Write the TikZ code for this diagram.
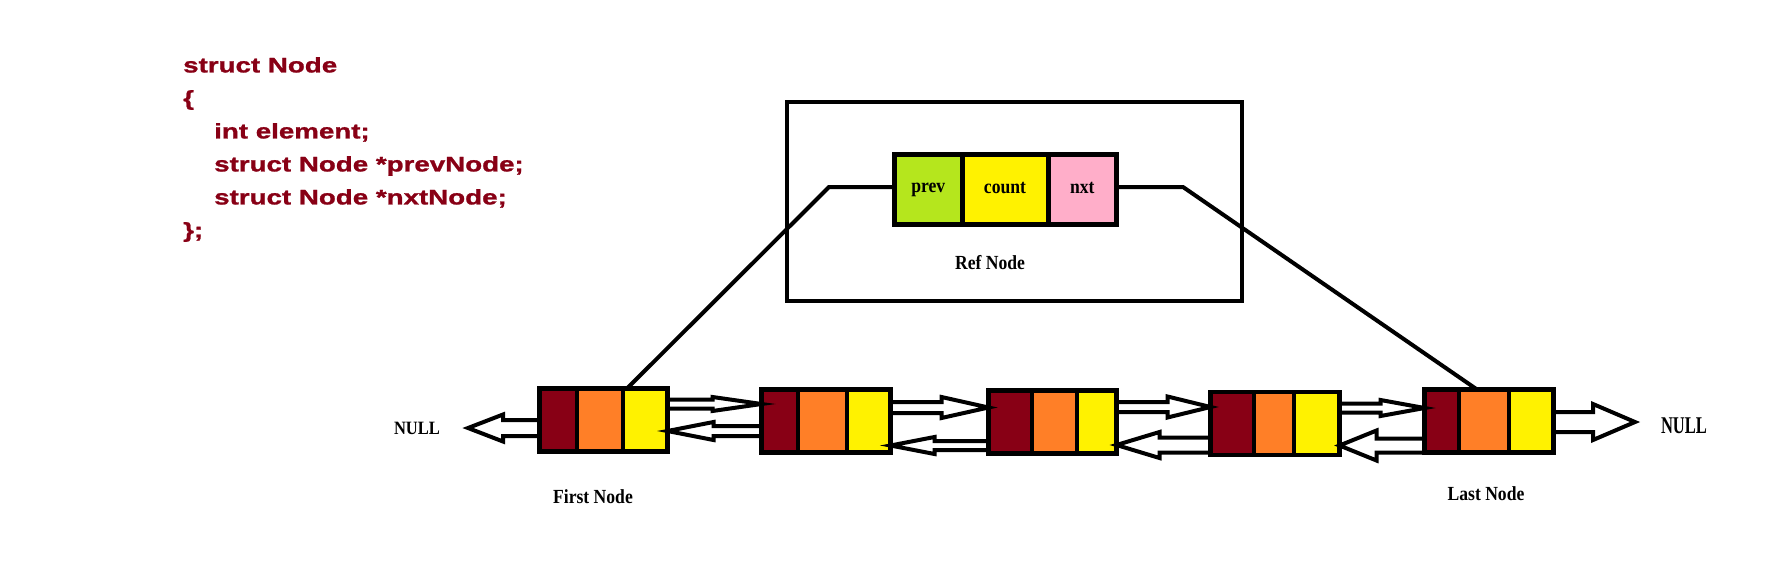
\documentclass[tikz,border=0pt]{standalone}
\usepackage{fontspec}
\setmainfont{Liberation Serif}
\newfontfamily\codefont{Liberation Sans}[FakeStretch=1.32, FakeBold=1.2]
\newfontfamily\labelfont{Liberation Serif}[FakeStretch=0.88]
\newfontfamily\narrowserif{Liberation Serif}[FakeStretch=0.69]
\usepackage{tikz}
\usetikzlibrary{calc,positioning}

\definecolor{pdarkred}{RGB}{136,0,21}
\definecolor{porange}{RGB}{255,127,39}
\definecolor{pyellow}{RGB}{255,242,0}
\definecolor{plime}{RGB}{181,230,29}
\definecolor{ppink}{RGB}{255,174,201}

\begin{document}
\begin{tikzpicture}[
  x=1pt, y=-1pt,
  cell/.style={draw, line width=4.5pt, outer sep=0pt, inner sep=0pt,
               minimum height=63pt},
  refcell/.style={draw, line width=5pt, outer sep=0pt, inner sep=0pt,
                  minimum height=70pt, text depth=4pt,
                  font=\labelfont\bfseries\fontsize{20pt}{24pt}\selectfont},
  lbl/.style={font=\labelfont\bfseries\fontsize{20pt}{24pt}\selectfont, inner sep=0pt},
  code/.style={font=\codefont\bfseries\fontsize{21pt}{33pt}\selectfont,
               text=pdarkred, align=left, inner sep=0pt},
  link/.style={line width=4pt},
  hollow/.style args={#1/#2/#3}{line width=4pt,
    to path={let \p1=(\tikztostart), \p2=(\tikztotarget),
                 \p3=($(\x2,\y1)!#3!(\x1,\y1)$) in
      (\x1,\y1+#1) -- (\x3,\y1+#1) -- (\x3,\y1+#2) -- (\x2,\y1)
      -- (\x3,\y1-#2) -- (\x3,\y1-#1) -- (\x1,\y1-#1)}}
]
  \useasboundingbox (0,0) rectangle (1776,571);

  % --- struct definition ---------------------------------------------
  \node[code, anchor=north west] (structdef) at (183,57)
    {struct Node\\
     \{\\
     \hspace*{31pt}int element;\\
     \hspace*{31pt}struct Node *prevNode;\\
     \hspace*{31pt}struct Node *nxtNode;\\
     \};};

  % --- reference node ------------------------------------------------
  \node[draw, line width=4pt, inner sep=0pt,
        minimum width=455pt, minimum height=199pt] (refbox) at (1014.5,201.5) {};
  \node[refcell, fill=plime, minimum width=67.5pt] (prev) at (928.25,189.5) {prev};
  \node[refcell, fill=pyellow, minimum width=86pt, right=0pt of prev] (count) {count};
  \node[refcell, fill=ppink, minimum width=68.5pt, right=0pt of count] (nxt) {nxt};
  \node[lbl] (reflbl) at (990,263) {Ref Node};

  % --- list nodes ----------------------------------------------------
  \node[cell, fill=pdarkred, minimum width=37.5pt] (n1p) at (558.25,420) {};
  \node[cell, fill=porange, minimum width=46pt, right=0pt of n1p] (n1d) {};
  \node[cell, fill=pyellow, minimum width=44.5pt, right=0pt of n1d] (n1n) {};

  \node[cell, fill=pdarkred, minimum width=36.5pt] (n2p) at (779.75,421) {};
  \node[cell, fill=porange, minimum width=49pt, right=0pt of n2p] (n2d) {};
  \node[cell, fill=pyellow, minimum width=43.5pt, right=0pt of n2d] (n2n) {};

  \node[cell, fill=pdarkred, minimum width=43.5pt] (n3p) at (1010.25,422) {};
  \node[cell, fill=porange, minimum width=45pt, right=0pt of n3p] (n3d) {};
  \node[cell, fill=pyellow, minimum width=39.5pt, right=0pt of n3d] (n3n) {};

  \node[cell, fill=pdarkred, minimum width=43.5pt] (n4p) at (1232.25,423.5) {};
  \node[cell, fill=porange, minimum width=40pt, right=0pt of n4p] (n4d) {};
  \node[cell, fill=pyellow, minimum width=45.5pt, right=0pt of n4d] (n4n) {};

  \node[cell, fill=pdarkred, minimum width=34.5pt] (n5p) at (1441.75,421) {};
  \node[cell, fill=porange, minimum width=50pt, right=0pt of n5p] (n5d) {};
  \node[cell, fill=pyellow, minimum width=44.5pt, right=0pt of n5d] (n5n) {};

  \node[lbl] (firstlbl) at (593,497) {First Node};
  \node[lbl] (lastlbl) at (1486,494) {Last Node};

  % --- NULL ends -----------------------------------------------------
  \node[font=\labelfont\bfseries\fontsize{18.8pt}{22pt}\selectfont, inner sep=0pt]
    (nullL) at (417,428) {NULL};
  \node[font=\narrowserif\bfseries\fontsize{24pt}{28pt}\selectfont, inner sep=0pt]
    (nullR) at (1684,426) {NULL};
  \coordinate (nulltipL) at (468,428);
  \coordinate (nulltipR) at (1635,422);

  % --- links from the reference node ---------------------------------
  \draw[link] ([yshift=2.5pt]prev.west) -- ++(-65.5,0) -- ([xshift=4pt]n1n.north west);
  \draw[link] ([yshift=2.5pt]nxt.east) -- ++(66.5,0) -- ([xshift=18pt]n5d.north west);

  % --- next / prev arrows --------------------------------------------
  \draw[hollow=4.5pt/7pt/49pt] ([yshift=16pt]n1n.east) to (n2p.west);
  \draw[hollow=5pt/9pt/46pt] ([yshift=-10pt]n2p.west) to (n1n.east);
  \draw[hollow=5.5pt/10.5pt/47pt] ([yshift=13.5pt]n2n.east) to (n3p.west);
  \draw[hollow=4.5pt/8.5pt/44pt] ([yshift=-23.5pt]n3p.west) to (n2n.east);
  \draw[hollow=5pt/10.5pt/43pt] ([yshift=15pt]n3n.east) to (n4p.west);
  \draw[hollow=7.5pt/13pt/43pt] ([yshift=-21.5pt]n4p.west) to (n3n.east);
  \draw[hollow=4.5pt/8pt/44pt] ([yshift=15.5pt]n4n.east) to (n5p.west);
  \draw[hollow=7pt/15pt/37pt] ([yshift=-24.5pt]n5p.west) to (n4n.east);

  \draw[hollow=8pt/13.5pt/35pt] ([yshift=-8pt]n1p.west) to (nulltipL);
  \draw[hollow=10pt/18pt/42pt] ([yshift=-1pt]n5n.east) to (nulltipR);
\end{tikzpicture}
\end{document}
